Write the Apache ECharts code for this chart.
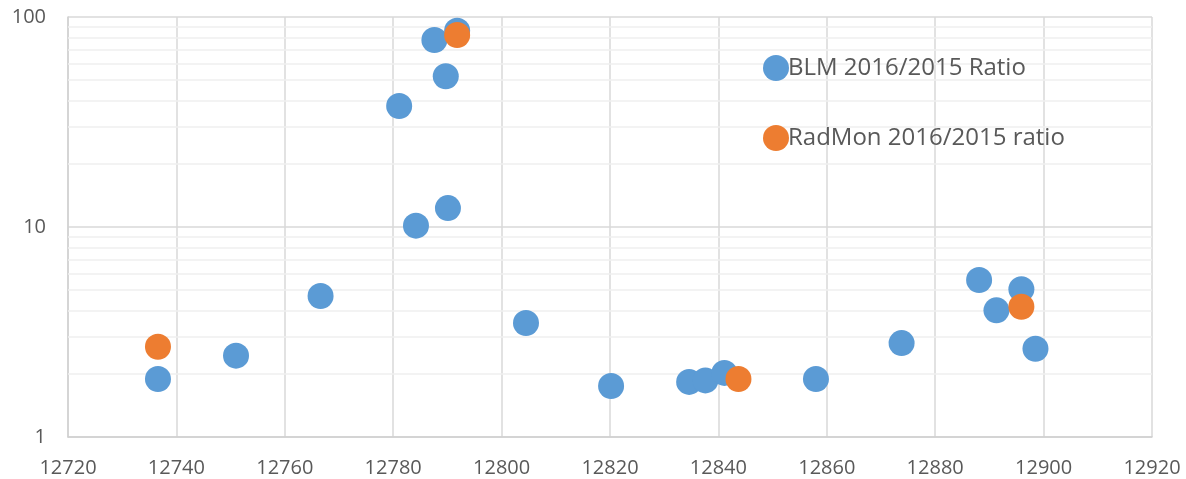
<!DOCTYPE html>
<html>
<head>
<meta charset="utf-8">
<title>BLM and RadMon 2016/2015 ratios</title>
<script src="https://cdn.jsdelivr.net/npm/echarts@6/dist/echarts.min.js"></script>
<style>
  html, body { margin: 0; padding: 0; background: #ffffff; }
  #chart { width: 1186px; height: 479px; }
</style>
</head>
<body>
<div id="chart"></div>
<script>
// Series names
const blmName = 'BLM 2016/2015 Ratio';
const radmonName = 'RadMon 2016/2015 ratio';

// BLM positions and ratios
const blmX = [12736.6, 12751.0, 12766.6, 12781.1, 12787.6, 12789.7, 12791.8, 12784.2, 12790.1,
              12804.5, 12820.2, 12834.6, 12837.6, 12841.1, 12858.0, 12873.8, 12888.1, 12891.3,
              12895.9, 12898.5];
const blmY = [1.89, 2.44, 4.69, 37.7, 77.7, 52.2, 86.1, 10.15, 12.3,
              3.49, 1.75, 1.83, 1.86, 2.02, 1.89, 2.80, 5.59, 4.01,
              5.05, 2.63];

// RadMon positions and ratios
const radmonX = [12736.6, 12791.8, 12843.7, 12895.9];
const radmonY = [2.69, 82.1, 1.89, 4.17];

// Axis ranges
const xMin = 12720, xMax = 12920, xStep = 20;
const yMin = 1, yMax = 100;

// Intermediate log gridlines (2..9 within each decade)
const minorGridValues = [2, 3, 4, 5, 6, 7, 8, 9, 20, 30, 40, 50, 60, 70, 80, 90];

const textColor = '#595959';
const fontFamily = '"Open Sans", "Noto Sans", sans-serif';

const zip = (xs, ys) => xs.map((x, i) => [x, ys[i]]);

const chart = echarts.init(document.getElementById('chart'), null, { renderer: 'canvas' });

chart.setOption({
  animation: false,
  backgroundColor: '#ffffff',
  textStyle: { fontFamily: fontFamily },
  grid: { left: 68, right: 34, top: 17, bottom: 42, containLabel: false, outerBoundsMode: 'none' },
  legend: {
    orient: 'vertical',
    left: 758,
    top: 50,
    icon: 'circle',
    itemWidth: 26,
    itemHeight: 26,
    itemGap: 44,
    data: [blmName, radmonName],
    textStyle: { color: textColor, fontSize: 24, fontFamily: fontFamily, padding: [0, 0, 0, -6] }
  },
  xAxis: {
    type: 'value',
    min: xMin,
    max: xMax,
    interval: xStep,
    axisLine: { show: true, lineStyle: { color: '#d0d0d0', width: 1.5 } },
    axisTick: { show: false },
    axisLabel: {
      color: textColor, fontSize: 20, margin: 21, fontFamily: fontFamily,
      formatter: v => String(v)
    },
    splitLine: { show: true, lineStyle: { color: '#d9d9d9', width: 1.5 } }
  },
  yAxis: {
    type: 'log',
    logBase: 10,
    min: yMin,
    max: yMax,
    axisLine: { show: true, lineStyle: { color: '#d0d0d0', width: 1.5 } },
    axisTick: { show: false },
    axisLabel: {
      color: textColor, fontSize: 20, margin: 22, fontFamily: fontFamily,
      formatter: v => String(v)
    },
    splitLine: { show: true, lineStyle: { color: '#d9d9d9', width: 1.5 } }
  },
  series: [
    {
      // carries the intermediate log gridlines underneath the markers
      type: 'scatter',
      data: [],
      silent: true,
      z: 1,
      markLine: {
        silent: true,
        z: 1,
        symbol: ['none', 'none'],
        label: { show: false },
        lineStyle: { color: '#efefef', width: 1.5, type: 'solid' },
        emphasis: { disabled: true },
        data: minorGridValues.map(v => ({ yAxis: v }))
      }
    },
    {
      name: blmName,
      type: 'scatter',
      symbol: 'circle',
      symbolSize: 26,
      z: 3,
      itemStyle: { color: '#5B9BD5', opacity: 1 },
      data: zip(blmX, blmY)
    },
    {
      name: radmonName,
      type: 'scatter',
      symbol: 'circle',
      symbolSize: 26,
      z: 4,
      itemStyle: { color: '#ED7D31', opacity: 1 },
      data: zip(radmonX, radmonY)
    }
  ]
});
</script>
</body>
</html>
